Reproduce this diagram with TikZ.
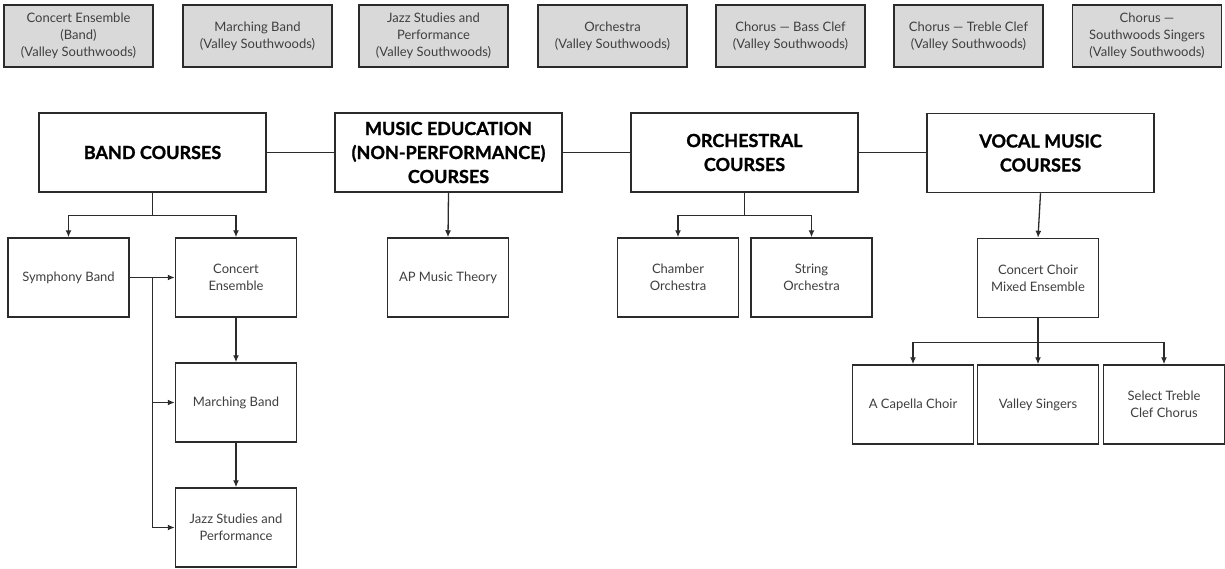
\documentclass[tikz,border=0pt]{standalone}
\usepackage{fontspec}
\setmainfont{Lato}[BoldFeatures={FakeBold=1.2}]
\usetikzlibrary{arrows.meta,calc}
\definecolor{boxgray}{HTML}{D9D9D9}
\definecolor{edge}{HTML}{2B2B2B}
\definecolor{txt}{HTML}{3F3F3F}
\tikzset{
  topbox/.style={draw=edge, line width=1.5pt, fill=boxgray, minimum width=149pt, minimum height=62pt, inner sep=0pt, align=center, text=txt, font=\fontsize{13}{16.7}\selectfont},
  headbox/.style={draw=edge, line width=1.5pt, fill=white, minimum width=227pt, minimum height=79pt, inner sep=0pt, align=center, text=black, font=\fontsize{18}{24}\selectfont\bfseries},
  coursebox/.style={draw=edge, line width=1.5pt, fill=white, minimum width=121pt, minimum height=79pt, inner sep=0pt, align=center, text=txt, font=\fontsize{13}{16.7}\selectfont},
  link/.style={draw=edge, line width=1.3pt},
  arr/.style={link, -{Latex[length=7pt,width=6pt]}}
}
\begin{document}
\begin{tikzpicture}[x=1pt,y=-1pt]
\useasboundingbox (0,0) rectangle (1225,568);
% top row
\node[topbox] (t1) at (78.5,36) {Concert Ensemble\\(Band)\\(Valley Southwoods)};
\node[topbox] (t2) at (257.5,36) {Marching Band\\(Valley Southwoods)};
\node[topbox] (t3) at (433.5,36) {Jazz Studies and\\Performance\\(Valley Southwoods)};
\node[topbox] (t4) at (612.5,36) {Orchestra\\(Valley Southwoods)};
\node[topbox] (t5) at (790.5,36) {Chorus — Bass Clef\\(Valley Southwoods)};
\node[topbox] (t6) at (968.5,36) {Chorus — Treble Clef\\(Valley Southwoods)};
\node[topbox] (t7) at (1147,36) {Chorus —\\Southwoods Singers\\(Valley Southwoods)};
% headers
\node[headbox] (band) at (152.5,152.5) {BAND COURSES};
\node[headbox] (edu) at (448.5,152.5) {MUSIC EDUCATION\\(NON-PERFORMANCE)\\COURSES};
\node[headbox] (orch) at (744.5,152.5) {ORCHESTRAL\\COURSES};
\node[headbox] (vocal) at (1040.5,153) {VOCAL MUSIC\\COURSES};
% second row
\node[coursebox] (sym) at (68.5,277.5) {Symphony Band};
\node[coursebox] (con) at (236,277.5) {Concert\\Ensemble};
\node[coursebox] (ap) at (448,277.5) {AP Music Theory};
\node[coursebox] (cham) at (678,277.5) {Chamber\\Orchestra};
\node[coursebox] (str) at (811.5,277.5) {String\\Orchestra};
\node[coursebox] (choir) at (1038,278) {Concert Choir\\Mixed Ensemble};
% third rows
\node[coursebox] (march) at (236,402.5) {Marching Band};
\node[coursebox] (jazz) at (236,527.5) {Jazz Studies and\\Performance};
\node[coursebox] (acap) at (913,404.5) {A Capella Choir};
\node[coursebox] (vsing) at (1038,404.5) {Valley Singers};
\node[coursebox] (treble) at (1164,404.5) {Select Treble\\Clef Chorus};
% header links
\draw[link] (band.east) -- (edu.west);
\draw[link] (edu.east) -- (orch.west);
\draw[link] (orch.east) -- (vocal.west |- orch.east);
% band branch
\draw[arr] (band.south) -- ++(0,23) -| (sym.north);
\draw[arr] (band.south) -- ++(0,23) -| (con.north);
\draw[arr] (sym.east) -- (con.west);
\coordinate (j) at ($(sym.east)!0.5!(con.west)$);
\draw[arr] (j) |- (march.west);
\draw[arr] (j) |- (jazz.west);
\draw[arr] (con.south) -- (march.north);
\draw[arr] (march.south) -- (jazz.north);
% education
\draw[arr] (edu.south) -- (ap.north);
% orchestra branch
\draw[arr] (orch.south) -- ++(0,23) -| (cham.north);
\draw[arr] (orch.south) -- ++(0,23) -| (str.north);
% vocal
\draw[arr] (vocal.south) -- (choir.north);
\draw[arr] (choir.south) -- ++(0,24) -| (acap.north);
\draw[arr] (choir.south) -- ++(0,24) -| (vsing.north);
\draw[arr] (choir.south) -- ++(0,24) -| (treble.north);
\end{tikzpicture}
\end{document}
